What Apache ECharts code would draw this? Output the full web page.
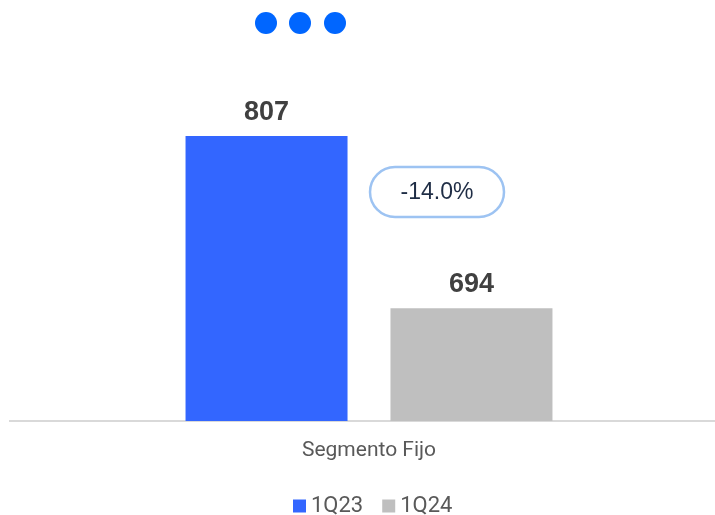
<!DOCTYPE html>
<html><head><meta charset="utf-8">
<script src="https://cdn.jsdelivr.net/npm/echarts@6/dist/echarts.min.js"></script>
<style>html,body{margin:0;padding:0;background:#fff}#c{width:715px;height:515px}</style>
</head><body><div id="c"></div>
<script>
const categories = ['Segmento Fijo'];
const seriesNames = ['1Q23', '1Q24'];
const values1Q23 = [807];
const values1Q24 = [694];
const changeLabel = ((values1Q24[0] / values1Q23[0] - 1) * 100).toFixed(1) + '%';

const chart = echarts.init(document.getElementById('c'));
const labelStyle = {show: true, position: 'top', distance: 10, fontSize: 27, fontWeight: 'bold',
  color: '#404040', fontFamily: 'Liberation Sans, Arial, sans-serif'};
chart.setOption({
  animation: false,
  grid: {left: 23, right: 0, top: 40, bottom: 94},
  xAxis: {type: 'category', data: categories,
    axisLine: {lineStyle: {color: '#D9D9D9', width: 2}}, axisTick: {show: false},
    axisLabel: {margin: 19, fontSize: 21, color: '#595959',
      fontFamily: 'Liberation Sans Narrow, Roboto, sans-serif'}},
  yAxis: {type: 'value', min: 620, max: 870, show: false, splitLine: {show: false}},
  legend: {bottom: -7, left: 288, itemWidth: 13, itemHeight: 13, itemGap: 19,
    icon: 'rect', data: seriesNames,
    textStyle: {fontSize: 22, color: '#595959', fontFamily: 'Roboto, sans-serif'}},
  series: [
    {name: seriesNames[0], type: 'bar', data: values1Q23, barWidth: 162, barGap: '26.5%',
      itemStyle: {color: '#3366FF'}, label: labelStyle},
    {name: seriesNames[1], type: 'bar', data: values1Q24, barWidth: 162,
      itemStyle: {color: '#BFBFBF'}, label: labelStyle}
  ],
  graphic: [
    {type: 'line', shape: {x1: 9, y1: 421, x2: 24, y2: 421}, style: {stroke: '#D9D9D9', lineWidth: 2}},
    {type: 'circle', shape: {cx: 266, cy: 23, r: 11}, style: {fill: '#0066FF'}},
    {type: 'circle', shape: {cx: 300, cy: 23, r: 11}, style: {fill: '#0066FF'}},
    {type: 'circle', shape: {cx: 335, cy: 23, r: 11}, style: {fill: '#0066FF'}},
    {type: 'rect', shape: {x: 370, y: 167, width: 134, height: 50, r: 25},
      style: {fill: '#fff', stroke: '#9DC3F2', lineWidth: 2.5}},
    {type: 'text', x: 437, y: 193, style: {text: changeLabel, fontSize: 23, fill: '#1F2D45',
      align: 'center', verticalAlign: 'middle', fontFamily: 'Liberation Sans, Arial, sans-serif'}}
  ]
});
</script></body></html>
